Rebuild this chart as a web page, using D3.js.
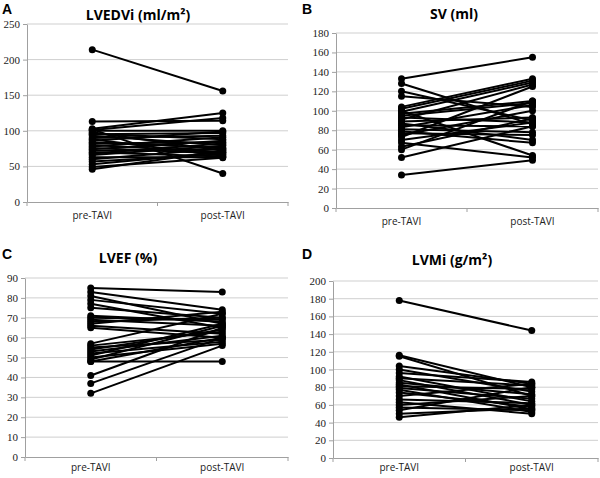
<!DOCTYPE html>
<html><head><meta charset="utf-8">
<script src="https://cdn.jsdelivr.net/npm/d3@7"></script>
<style>
body{margin:0;background:#fff;}
svg{display:block;}
</style></head>
<body>
<svg id="chart" width="600" height="478"></svg>
<script>
const categories = ["pre-TAVI", "post-TAVI"];

const lvedviPre  = [214,113,103,102,101,100,98,96,95,93,90,88,86,84,82,80,78,76,74,72,70,68,66,63,60,57,53,49,46];
const lvedviPost = [156,114,125,40,118,100,72,88,97,80,93,65,99,76,84,70,91,68,86,74,64,82,79,63,75,67,70,62,72];
const lvedviTicks = [0,50,100,150,200,250];

const svPre  = [133,128,120,115,104,102,100,99,97,95,93,91,89,87,85,83,81,79,77,75,73,70,67,63,60,52,34];
const svPost = [155,86,90,104,133,131,54,129,110,108,88,127,93,70,84,106,78,67,75,100,125,88,52,92,110,84,49];
const svTicks = [0,20,40,60,80,100,120,140,160,180];

const lvefPre  = [85,83,81,79,77,75,71,70,69,68,67,66,65,57,56,55,54,53,52,51,50,49,48,48,41,37,32];
const lvefPost = [83,74,67,72,65,70,68,69,66,70,73,62,60,72,63,59,64,61,58,67,57,66,48,60,65,60,56];
const lvefTicks = [0,10,20,30,40,50,60,70,80,90];

const lvmiPre  = [178,116,115,104,100,96,92,90,88,85,83,81,79,77,74,70,66,63,60,57,54,50,46];
const lvmiPost = [144,80,70,84,75,86,64,82,60,72,55,78,67,52,58,84,62,50,70,54,80,56,60];
const lvmiTicks = [0,20,40,60,80,100,120,140,160,180,200];

const panels = [
  {letter:"A", title:"LVEDVi (ml/m²)", pre:lvedviPre, post:lvedviPost, ticks:lvedviTicks,
   left:27, right:288, top:24, bottom:202, titleX:138, titleY:20, letterX:2, letterY:14, pad:10},
  {letter:"B", title:"SV (ml)", pre:svPre, post:svPost, ticks:svTicks,
   left:336, right:598, top:33, bottom:208, titleX:454, titleY:19, letterX:302, letterY:14, pad:10},
  {letter:"C", title:"LVEF (%)", pre:lvefPre, post:lvefPost, ticks:lvefTicks,
   left:25, right:288, top:278, bottom:457, titleX:128, titleY:263, letterX:2, letterY:259, pad:7},
  {letter:"D", title:"LVMi (g/m²)", pre:lvmiPre, post:lvmiPost, ticks:lvmiTicks,
   left:333, right:598, top:281, bottom:458, titleX:452, titleY:265, letterX:302, letterY:259, pad:6}
];

const svg = d3.select("#chart");

panels.forEach(p => {
  const g = svg.append("g");
  const x = d3.scaleBand().domain(categories).range([p.left, p.right]);
  const y = d3.scaleLinear().domain([0, d3.max(p.ticks)]).range([p.bottom, p.top]);

  g.selectAll("line.grid").data(p.ticks.filter(t => t > 0)).enter().append("line")
    .attr("x1", p.left).attr("x2", p.right)
    .attr("y1", d => y(d)).attr("y2", d => y(d))
    .attr("stroke", "#cfcfcf").attr("stroke-width", 1);

  const yAxis = d3.axisLeft(y).tickValues(p.ticks).tickSize(4).tickPadding(3).tickSizeOuter(0);
  const ya = g.append("g").attr("transform", `translate(${p.left},0)`).call(yAxis);
  ya.select(".domain").attr("stroke", "#a0a0a0");
  ya.selectAll(".tick line").attr("stroke", "#a0a0a0");
  ya.selectAll("text").attr("font-family", "Liberation Serif, Times New Roman, serif")
    .attr("font-size", 11).attr("fill", "#222");

  const xAxis = d3.axisBottom(x).tickSize(0).tickPadding(p.pad);
  const xa = g.append("g").attr("transform", `translate(0,${p.bottom})`).call(xAxis);
  xa.select(".domain").attr("stroke", "#a0a0a0");
  xa.selectAll("text").attr("font-family", "Open Sans, Liberation Sans, sans-serif")
    .attr("font-size", 10).attr("fill", "#222");
  const bounds = [p.left, p.left + x.bandwidth(), p.right];
  g.selectAll("line.xb").data(bounds).enter().append("line")
    .attr("x1", d => d).attr("x2", d => d)
    .attr("y1", p.bottom).attr("y2", p.bottom + 4)
    .attr("stroke", "#a0a0a0");

  const cx = c => x(c) + x.bandwidth() / 2;
  const pairs = p.pre.map((v, i) => [v, p.post[i]]);

  g.selectAll("line.pair").data(pairs).enter().append("line")
    .attr("x1", cx(categories[0])).attr("x2", cx(categories[1]))
    .attr("y1", d => y(d[0])).attr("y2", d => y(d[1]))
    .attr("stroke", "#000").attr("stroke-width", 2);

  g.selectAll("circle.pre").data(p.pre).enter().append("circle")
    .attr("cx", cx(categories[0])).attr("cy", d => y(d)).attr("r", 3.5).attr("fill", "#000");
  g.selectAll("circle.post").data(p.post).enter().append("circle")
    .attr("cx", cx(categories[1])).attr("cy", d => y(d)).attr("r", 3.5).attr("fill", "#000");

  g.append("text").attr("x", p.titleX).attr("y", p.titleY).attr("text-anchor", "middle")
    .attr("font-family", "Open Sans, Liberation Sans, sans-serif").attr("font-weight", "bold")
    .attr("font-size", 14).attr("fill", "#000").text(p.title);
  g.append("text").attr("x", p.letterX).attr("y", p.letterY)
    .attr("font-family", "Liberation Sans, Arial, sans-serif").attr("font-weight", "bold")
    .attr("font-size", 14).attr("fill", "#000").text(p.letter);
});
</script>
</body></html>
